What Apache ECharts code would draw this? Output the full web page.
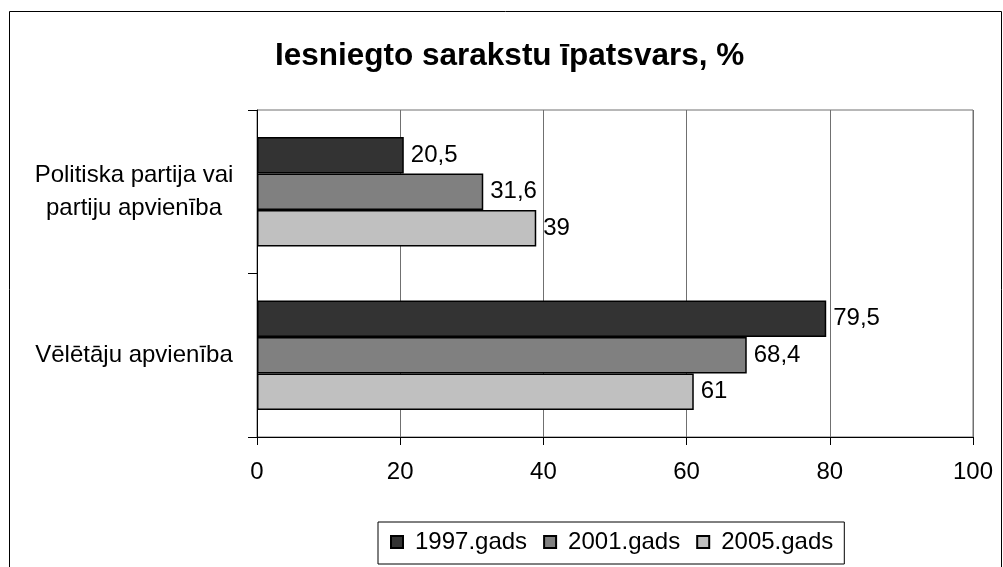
<!DOCTYPE html>
<html>
<head>
<meta charset="utf-8">
<script src="https://cdn.jsdelivr.net/npm/echarts@6/dist/echarts.min.js"></script>
<style>
  html, body { margin: 0; padding: 0; background: #fff; }
  #main { width: 1003px; height: 567px; }
</style>
</head>
<body>
<div id="main"></div>
<script>
// dati no attēla
var categories = ['Politiska partija vai\npartiju apvienība', 'Vēlētāju apvienība'];
var seriesNames = ['1997.gads', '2001.gads', '2005.gads'];
var values1997 = [20.5, 79.5];
var values2001 = [31.6, 68.4];
var values2005 = [39, 61];
var xTicks = [0, 20, 40, 60, 80, 100];

var colors = ['#333333', '#808080', '#c0c0c0'];
var font = 'Arial, "Liberation Sans", sans-serif';

function makeSeries (name, data, color) {
  return {
    name: name,
    type: 'bar',
    data: data,
    barGap: 0,
    barCategoryGap: '33%',
    itemStyle: { color: color, borderColor: '#000', borderWidth: 1.5 },
    label: {
      show: true,
      position: 'right',
      distance: 7,
      color: '#000',
      fontFamily: font,
      fontSize: 24,
      formatter: function (p) { return String(p.value).replace('.', ',') }
    }
  }
}

var myChart = echarts.init(document.getElementById('main'))
myChart.setOption({
  animation: false,
  backgroundColor: '#fff',
  title: {
    text: 'Iesniegto sarakstu īpatsvars, %',
    left: 270,
    top: 35,
    textStyle: { fontFamily: font, fontSize: 31.5, fontWeight: 'bold', color: '#000' }
  },
  graphic: [{
    type: 'rect',
    shape: { x: 9.5, y: 11.5, width: 992, height: 600 },
    style: { fill: 'none', stroke: '#000', lineWidth: 1 },
    silent: true
  }],
  legend: {
    data: seriesNames,
    top: 522,
    left: 378,
    padding: [8, 11, 10, 12],
    itemGap: 16,
    itemWidth: 12,
    itemHeight: 12,
    icon: 'rect',
    borderColor: '#000',
    borderWidth: 1,
    textStyle: { fontFamily: font, fontSize: 24, color: '#000', padding: [0, 0, 0, 7] }
  },
  grid: {
    left: 257,
    right: 30,
    top: 110,
    height: 327,
    show: true,
    borderColor: '#707070',
    borderWidth: 1
  },
  xAxis: {
    type: 'value',
    min: xTicks[0],
    max: xTicks[xTicks.length - 1],
    interval: xTicks[1] - xTicks[0],
    axisLine: { show: true, lineStyle: { color: '#000', width: 1 } },
    axisTick: { show: true, length: 8, lineStyle: { color: '#000' } },
    splitLine: { show: true, lineStyle: { color: '#707070', width: 1 } },
    axisLabel: { fontFamily: font, fontSize: 24, color: '#000', margin: 23 }
  },
  yAxis: {
    type: 'category',
    inverse: true,
    data: categories,
    axisLine: { show: true, lineStyle: { color: '#000', width: 1 } },
    axisTick: { show: true, length: 9, lineStyle: { color: '#000' } },
    axisLabel: {
      fontFamily: font, fontSize: 24, color: '#000',
      align: 'center', margin: 123, lineHeight: 33
    }
  },
  series: [
    makeSeries(seriesNames[0], values1997, colors[0]),
    makeSeries(seriesNames[1], values2001, colors[1]),
    makeSeries(seriesNames[2], values2005, colors[2])
  ]
})
</script>
</body>
</html>
